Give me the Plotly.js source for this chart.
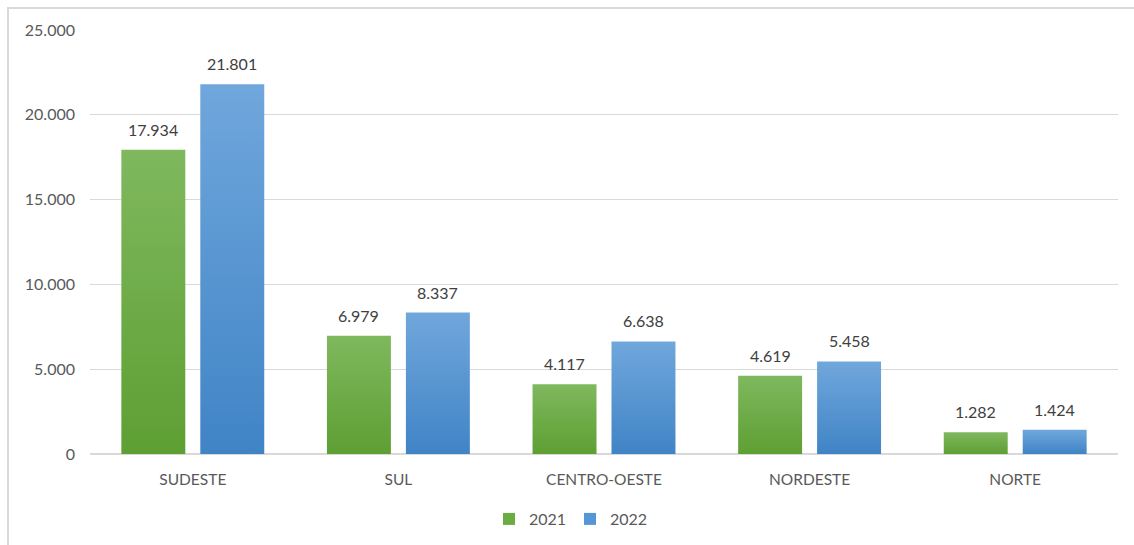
<!DOCTYPE html>
<html>
<head>
<meta charset="utf-8">
<script src="https://cdn.plot.ly/plotly-3.0.1.min.js"></script>
<style>
  html, body { margin: 0; padding: 0; background: #fff; }
  #wrap { position: relative; width: 1134px; height: 545px; overflow: hidden; }
  #chart { width: 1134px; height: 545px; }
  #frame { position: absolute; left: 7px; top: 7px; width: 1140px; height: 550px;
           border-left: 2px solid #d9d9d9; border-top: 2px solid #d9d9d9; pointer-events: none; }
</style>
</head>
<body>
<div id="wrap">
  <div id="chart"></div>
  <div id="frame"></div>
</div>
<script>
const categories = ["SUDESTE", "SUL", "CENTRO-OESTE", "NORDESTE", "NORTE"];
const values2021 = [17934, 6979, 4117, 4619, 1282];
const values2022 = [21801, 8337, 6638, 5458, 1424];
const seriesNames = ["2021", "2022"];
const yTicks = [0, 5000, 10000, 15000, 20000, 25000];

const fontFam = "Lato, 'Open Sans', 'Liberation Sans', sans-serif";
const labelFmt = v => v.toLocaleString('de-DE');

const traces = [
  {
    type: 'bar', name: seriesNames[0], x: categories, y: values2021,
    marker: { color: '#6aab42' }, hoverinfo: 'skip'
  },
  {
    type: 'bar', name: seriesNames[1], x: categories, y: values2022,
    marker: { color: '#5597d6' }, hoverinfo: 'skip'
  }
];

// data labels as annotations, positioned through the axis scales
const groupOffset = 39.5;
const annotations = [];
[values2021, values2022].forEach((vals, si) => {
  vals.forEach((v, i) => {
    annotations.push({
      x: categories[i], y: v, xref: 'x', yref: 'y',
      text: labelFmt(v), showarrow: false,
      xshift: si === 0 ? -groupOffset : groupOffset,
      yanchor: 'bottom', yshift: 9,
      font: { size: 16, color: '#404040', family: fontFam }
    });
  });
});

const layout = {
  width: 1134, height: 545,
  margin: { l: 90, r: 16, t: 30, b: 91 },
  paper_bgcolor: '#ffffff', plot_bgcolor: '#ffffff',
  separators: ',.',
  font: { family: fontFam, size: 14, color: '#595959' },
  barmode: 'group', bargap: 0.232, bargroupgap: 0.19,
  xaxis: {
    type: 'category', showgrid: false, showline: false, ticks: '',
    ticklabelstandoff: 14,
    tickfont: { size: 15.5, color: '#595959', family: fontFam }
  },
  yaxis: {
    range: [0, 25000], tickvals: yTicks, tickformat: ',d',
    showgrid: true, gridcolor: '#d9d9d9', gridwidth: 1.3,
    zeroline: true, zerolinecolor: '#d9d9d9', zerolinewidth: 2,
    showline: false, ticks: '', ticklabelstandoff: 14,
    tickfont: { size: 16, color: '#595959', family: fontFam }
  },
  annotations: annotations,
  showlegend: true,
  legend: {
    orientation: 'h', x: 0.5 + 3 / 1134, xref: 'container', xanchor: 'center',
    y: 26 / 545, yref: 'container', yanchor: 'middle',
    font: { size: 16, color: '#595959', family: fontFam },
    itemwidth: 30, entrywidth: 36, traceorder: 'normal'
  }
};

Plotly.newPlot('chart', traces, layout, { displayModeBar: false, staticPlot: true }).then(gd => {
  const svg = gd.querySelector('svg.main-svg');
  const ns = 'http://www.w3.org/2000/svg';
  let defs = svg.querySelector('defs');
  if (!defs) { defs = document.createElementNS(ns, 'defs'); svg.insertBefore(defs, svg.firstChild); }
  const grads = [
    { id: 'gG', top: '#7fb85e', bot: '#5e9f33' },
    { id: 'gB', top: '#70a7dc', bot: '#4084c6' }
  ];
  grads.forEach(g => {
    const lg = document.createElementNS(ns, 'linearGradient');
    lg.setAttribute('id', g.id);
    lg.setAttribute('x1', '0'); lg.setAttribute('y1', '0');
    lg.setAttribute('x2', '0'); lg.setAttribute('y2', '1');
    [[0, g.top], [1, g.bot]].forEach(([o, c]) => {
      const s = document.createElementNS(ns, 'stop');
      s.setAttribute('offset', o); s.setAttribute('stop-color', c);
      lg.appendChild(s);
    });
    defs.appendChild(lg);
  });
  gd.querySelectorAll('.barlayer .trace').forEach((t, i) => {
    t.querySelectorAll('.point path').forEach(p => {
      p.style.fill = 'url(#' + grads[i].id + ')';
    });
  });
});
</script>
</body>
</html>
